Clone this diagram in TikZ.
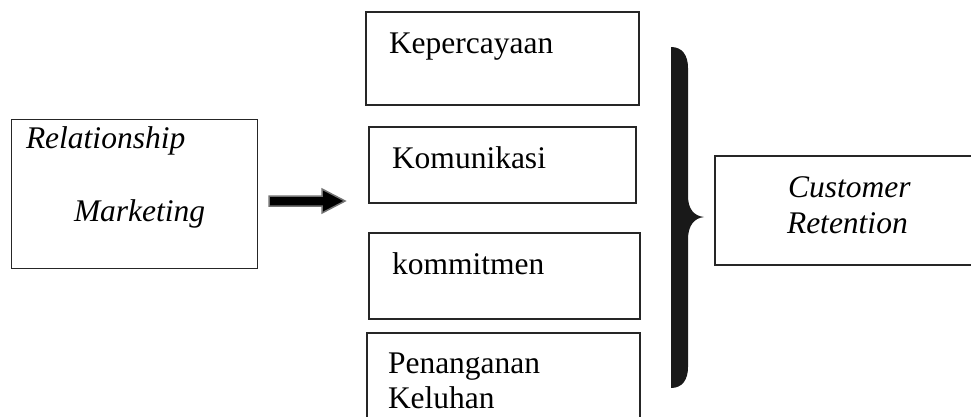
\documentclass[tikz,border=0pt]{standalone}
\usepackage{fontspec}
\setmainfont{Liberation Serif}
\usetikzlibrary{calc}
\begin{document}
\begin{tikzpicture}[x=1pt,y=-1pt,
  box/.style={draw=black!85, line width=1.4pt, inner sep=0pt, outer sep=0pt, anchor=north west},
  lbl/.style={inner sep=0pt, outer sep=0pt, anchor=base west, font=\fontsize{31.5}{36}\selectfont},
  ilbl/.style={lbl, font=\fontsize{31.5}{36}\selectfont\itshape},
]
\useasboundingbox (0,0) rectangle (971,416);

% boxes
\node[box, line width=1pt, minimum width=246pt, minimum height=149pt] (rm) at (11,119) {};
\node[box, minimum width=273pt, minimum height=93pt]  (k1) at (366,12)  {};
\node[box, minimum width=267pt, minimum height=76pt]  (k2) at (369,127) {};
\node[box, minimum width=271pt, minimum height=86pt]  (k3) at (369,233) {};
\node[box, minimum width=273pt, minimum height=100pt] (k4) at (367,333) {};
\node[box, minimum width=262pt, minimum height=109pt] (cr) at (715,156) {};

% labels
\node[ilbl] (rm1) at (26,148) {Relationship};
\node[ilbl] (rm2) at (74,221) {Marketing};
\node[lbl] (t1) at (389,53)  {Kepercayaan};
\node[lbl] (t2) at (392,168) {Komunikasi};
\node[lbl] (t3) at (392,274) {kommitmen};
\node[lbl] (t4a) at (388,373) {Penanganan};
\node[lbl] (t4b) at (388,408) {Keluhan};
\node[ilbl] (cr1) at (788,197) {Customer};
\node[ilbl] (cr2) at (787,233) {Retention};

% block arrow
\coordinate (as) at (269,201);
\coordinate (ae) at (345,201);
\draw[fill=black, draw=black!55, line width=1.5pt, line join=miter]
  ($(as)+(0,-5)$) -- ($(ae)+(-23,-5)$) -- ($(ae)+(-23,-12)$) -- (ae)
  -- ($(ae)+(-23,12)$) -- ($(ae)+(-23,5)$) -- ($(as)+(0,5)$) -- cycle;

% curly brace
\coordinate (tip) at (704,217);
\fill[black!90]
  (671,47) .. controls (682,47) and (688,55) .. (688,68)
  -- (688,196) .. controls (688,209) and (694,216) .. (tip)
  .. controls (694,218) and (688,226) .. (688,239)
  -- (688,367) .. controls (688,380) and (682,388) .. (671,388)
  -- cycle;
\end{tikzpicture}
\end{document}
